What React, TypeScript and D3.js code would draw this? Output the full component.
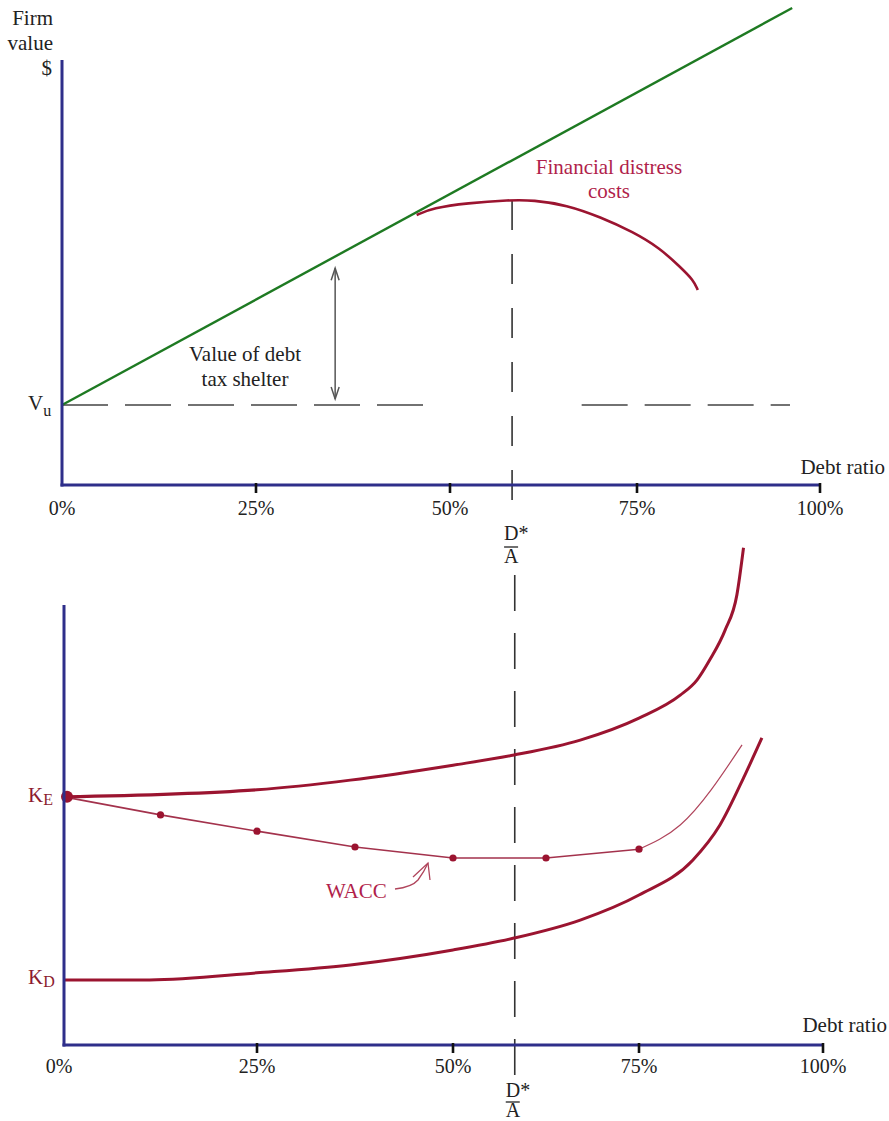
import React from "react";
import * as d3 from "d3";

// ---------- data ----------
const tickValues = [0, 25, 50, 75, 100];
const tickLabels = ["0%", "25%", "50%", "75%", "100%"];

// top panel (firm value)
const vu = 20;
const greenDebt = [0, 96.2];
const greenValue = [20, 119.25];
const distressDebt = [45.7, 47.8, 52.3, 58.0, 61.1, 65.6, 70.1, 74.5, 78.1, 80.9, 82.7, 83.3];
const distressValue = [67.5, 69.25, 70.5, 71.25, 71.25, 70, 67, 63.25, 59.25, 54.5, 51.25, 48.75];
const vuDashSegments = [[0, 47.4], [67.6, 95.9]];
const shelterArrowDebt = 35.2;
const shelterArrowTop = 54.2;
const dStar = 58.3;

// bottom panel (cost of capital)
const keDebt = [0, 25, 36.9, 50, 58.2, 67.1, 75, 80.6, 82.9, 84.6, 86.7, 88.3, 89.2];
const keValue = [56.4, 58.0, 60.2, 63.6, 65.9, 69.3, 74.3, 79.5, 83.0, 87.5, 94.3, 102.3, 113];
const kdDebt = [0, 11.1, 25, 36.9, 50, 58.2, 67.1, 75, 82.3, 86.0, 89.4, 91.7];
const kdValue = [14.8, 14.8, 16.4, 18.2, 21.6, 24.3, 28.4, 34.1, 42.0, 50.0, 61.4, 69.8];
const waccDebt = [0, 12.5, 25, 37.5, 50, 62.5, 75, 80.6, 89.0];
const waccValue = [56.4, 52.3, 48.6, 45.0, 42.5, 42.5, 44.5, 50.0, 68.2];
const waccDotCount = 7;

const FONT = "'Liberation Serif', 'Times New Roman', serif";
const AXIS = "#2e2e8a";
const MAROON = "#9b1430";
const TEXT_RED = "#b11f4b";

export default function App() {
  const W = 889, H = 1121;
  // top scales
  const xT = d3.scaleLinear().domain(tickValues).range([62, 256, 450, 637, 820]);
  const yT = d3.scaleLinear().domain([0, 120]).range([485, 5]);
  // bottom scales
  const xB = d3.scaleLinear().domain(tickValues).range([64, 257, 453, 639, 823]);
  const yB = d3.scaleLinear().domain([0, 100]).range([1045, 605]);

  const lineT = d3.line<[number, number]>().x(d => xT(d[0])).y(d => yT(d[1]));
  const curveT = d3.line<[number, number]>().x(d => xT(d[0])).y(d => yT(d[1])).curve(d3.curveBasis);
  const curveB = d3.line<[number, number]>().x(d => xB(d[0])).y(d => yB(d[1])).curve(d3.curveMonotoneX);
  const linB = d3.line<[number, number]>().x(d => xB(d[0])).y(d => yB(d[1]));

  const green = greenDebt.map((d, i) => [d, greenValue[i]] as [number, number]);
  const distress = distressDebt.map((d, i) => [d, distressValue[i]] as [number, number]);
  const ke = keDebt.map((d, i) => [d, keValue[i]] as [number, number]);
  const kd = kdDebt.map((d, i) => [d, kdValue[i]] as [number, number]);
  const wacc = waccDebt.map((d, i) => [d, waccValue[i]] as [number, number]);

  const ax = xT(shelterArrowDebt);
  const aTop = yT(shelterArrowTop);
  const aBot = yT(vu) - 6;
  const dsT = xT(dStar);
  const dsB = xB(dStar);

  const axisTextStyle = { fontFamily: FONT, fontSize: 21, fill: "#222" };
  const tickTextStyle = { fontFamily: FONT, fontSize: 20, fill: "#222" };

  return (
    <svg width={W} height={H} style={{ position: "absolute", left: 0, top: 0, background: "#fff" }}>
      {/* ================= TOP PANEL ================= */}
      {/* Vu dashed line */}
      {vuDashSegments.map((s, i) => (
        <line key={i} x1={xT(s[0])} x2={xT(s[1])} y1={yT(vu)} y2={yT(vu)} stroke="#444" strokeWidth={1.6} strokeDasharray="46,17" />
      ))}
      {/* D-star vertical dashed line (top) */}
      <line x1={dsT} x2={dsT} y1={yT(71.25)} y2={515} stroke="#333" strokeWidth={1.6} strokeDasharray="30,24" />
      {/* green line */}
      <path d={lineT(green) || ""} fill="none" stroke="#1e7a22" strokeWidth={2.4} />
      {/* financial distress curve */}
      <path d={curveT(distress) || ""} fill="none" stroke={MAROON} strokeWidth={2.6} />
      {/* shelter arrow */}
      <g stroke="#555" strokeWidth={1.5} fill="none">
        <line x1={ax} x2={ax} y1={aTop} y2={aBot} />
        <path d={`M${ax - 4},${aTop + 12} L${ax},${aTop} L${ax + 4},${aTop + 12}`} />
        <path d={`M${ax - 4},${aBot - 12} L${ax},${aBot} L${ax + 4},${aBot - 12}`} />
      </g>
      {/* axes */}
      <line x1={xT(0)} x2={xT(0)} y1={60} y2={yT(0) + 1.5} stroke={AXIS} strokeWidth={3} />
      <line x1={xT(0) - 1.5} x2={xT(100)} y1={yT(0)} y2={yT(0)} stroke={AXIS} strokeWidth={3} />
      {tickValues.slice(1).map(t => (
        <line key={t} x1={xT(t)} x2={xT(t)} y1={yT(0) - 2} y2={yT(0) + 8} stroke="#111" strokeWidth={2.6} />
      ))}
      {tickValues.map((t, i) => (
        <text key={t} x={xT(t)} y={515} textAnchor="middle" {...tickTextStyle}>{tickLabels[i]}</text>
      ))}
      <text x={885} y={474} textAnchor="end" {...axisTextStyle}>Debt ratio</text>
      <text x={53} y={25} textAnchor="end" {...axisTextStyle}>Firm</text>
      <text x={53} y={50} textAnchor="end" {...axisTextStyle}>value</text>
      <text x={52} y={75} textAnchor="end" {...axisTextStyle}>$</text>
      <text x={28} y={yT(vu) + 5} {...axisTextStyle}>V<tspan dy={6} fontSize={16}>u</tspan></text>
      <text x={245} y={361} textAnchor="middle" {...axisTextStyle}>Value of debt</text>
      <text x={245} y={386} textAnchor="middle" {...axisTextStyle}>tax shelter</text>
      <text x={609} y={174} textAnchor="middle" fontFamily={FONT} fontSize={21} fill={TEXT_RED}>Financial distress</text>
      <text x={609} y={198} textAnchor="middle" fontFamily={FONT} fontSize={21} fill={TEXT_RED}>costs</text>
      {/* D-star over A label top */}
      <text x={dsT - 8} y={540} {...tickTextStyle}>D*</text>
      <line x1={dsT - 8} x2={dsT + 6} y1={547} y2={547} stroke="#222" strokeWidth={1.3} />
      <text x={dsT - 8} y={563} {...tickTextStyle}>A</text>

      {/* ================= BOTTOM PANEL ================= */}
      <line x1={dsB} x2={dsB} y1={575} y2={1082} stroke="#333" strokeWidth={1.6} strokeDasharray="36,22" />
      {/* K_E */}
      <path d={curveB(ke) || ""} fill="none" stroke={MAROON} strokeWidth={3} />
      {/* K_D */}
      <path d={curveB(kd) || ""} fill="none" stroke={MAROON} strokeWidth={3} />
      {/* WACC */}
      <path d={linB(wacc.slice(0, waccDotCount)) || ""} fill="none" stroke="#a3324c" strokeWidth={1.6} />
      <path d={curveB(wacc.slice(waccDotCount - 1)) || ""} fill="none" stroke="#b0455c" strokeWidth={1.2} />
      {wacc.slice(0, waccDotCount).map((p, i) => (
        <circle key={i} cx={xB(p[0]) + (i === 0 ? 3 : 0)} cy={yB(p[1])} r={i === 0 ? 6 : 3.6} fill={MAROON} />
      ))}
      {/* WACC label and arrow */}
      <text x={326} y={898} fontFamily={FONT} fontSize={21} fill={TEXT_RED}>WACC</text>
      <g stroke="#b0455c" strokeWidth={1.3} fill="none">
        <path d="M395,889 Q412,887 418,880 Q424,872 428,863" />
        <path d="M413,877 L428,863 L430,880" />
      </g>
      {/* axes */}
      <line x1={xB(0)} x2={xB(0)} y1={605} y2={yB(0) + 1.5} stroke={AXIS} strokeWidth={3} />
      <line x1={xB(0) - 1.5} x2={xB(100)} y1={yB(0)} y2={yB(0)} stroke={AXIS} strokeWidth={3} />
      {tickValues.slice(1).map(t => (
        <line key={t} x1={xB(t)} x2={xB(t)} y1={yB(0) - 2} y2={yB(0) + 8} stroke="#111" strokeWidth={2.6} />
      ))}
      {tickValues.map((t, i) => (
        <text key={t} x={xB(t) - (i === 0 ? 5 : 0)} y={1073} textAnchor="middle" {...tickTextStyle}>{tickLabels[i]}</text>
      ))}
      <text x={887} y={1032} textAnchor="end" {...axisTextStyle}>Debt ratio</text>
      <text x={28} y={yB(keValue[0]) + 5} fontFamily={FONT} fontSize={21} fill="#8c1a2e">K<tspan dy={3} fontSize={16}>E</tspan></text>
      <text x={28} y={yB(kdValue[0]) + 4} fontFamily={FONT} fontSize={21} fill="#8c1a2e">K<tspan dy={3} fontSize={16}>D</tspan></text>
      {/* D-star over A label bottom */}
      <text x={dsB - 9} y={1097} {...tickTextStyle}>D*</text>
      <line x1={dsB - 9} x2={dsB + 5} y1={1102} y2={1102} stroke="#222" strokeWidth={1.3} />
      <text x={dsB - 9} y={1117} {...tickTextStyle}>A</text>
    </svg>
  );
}
